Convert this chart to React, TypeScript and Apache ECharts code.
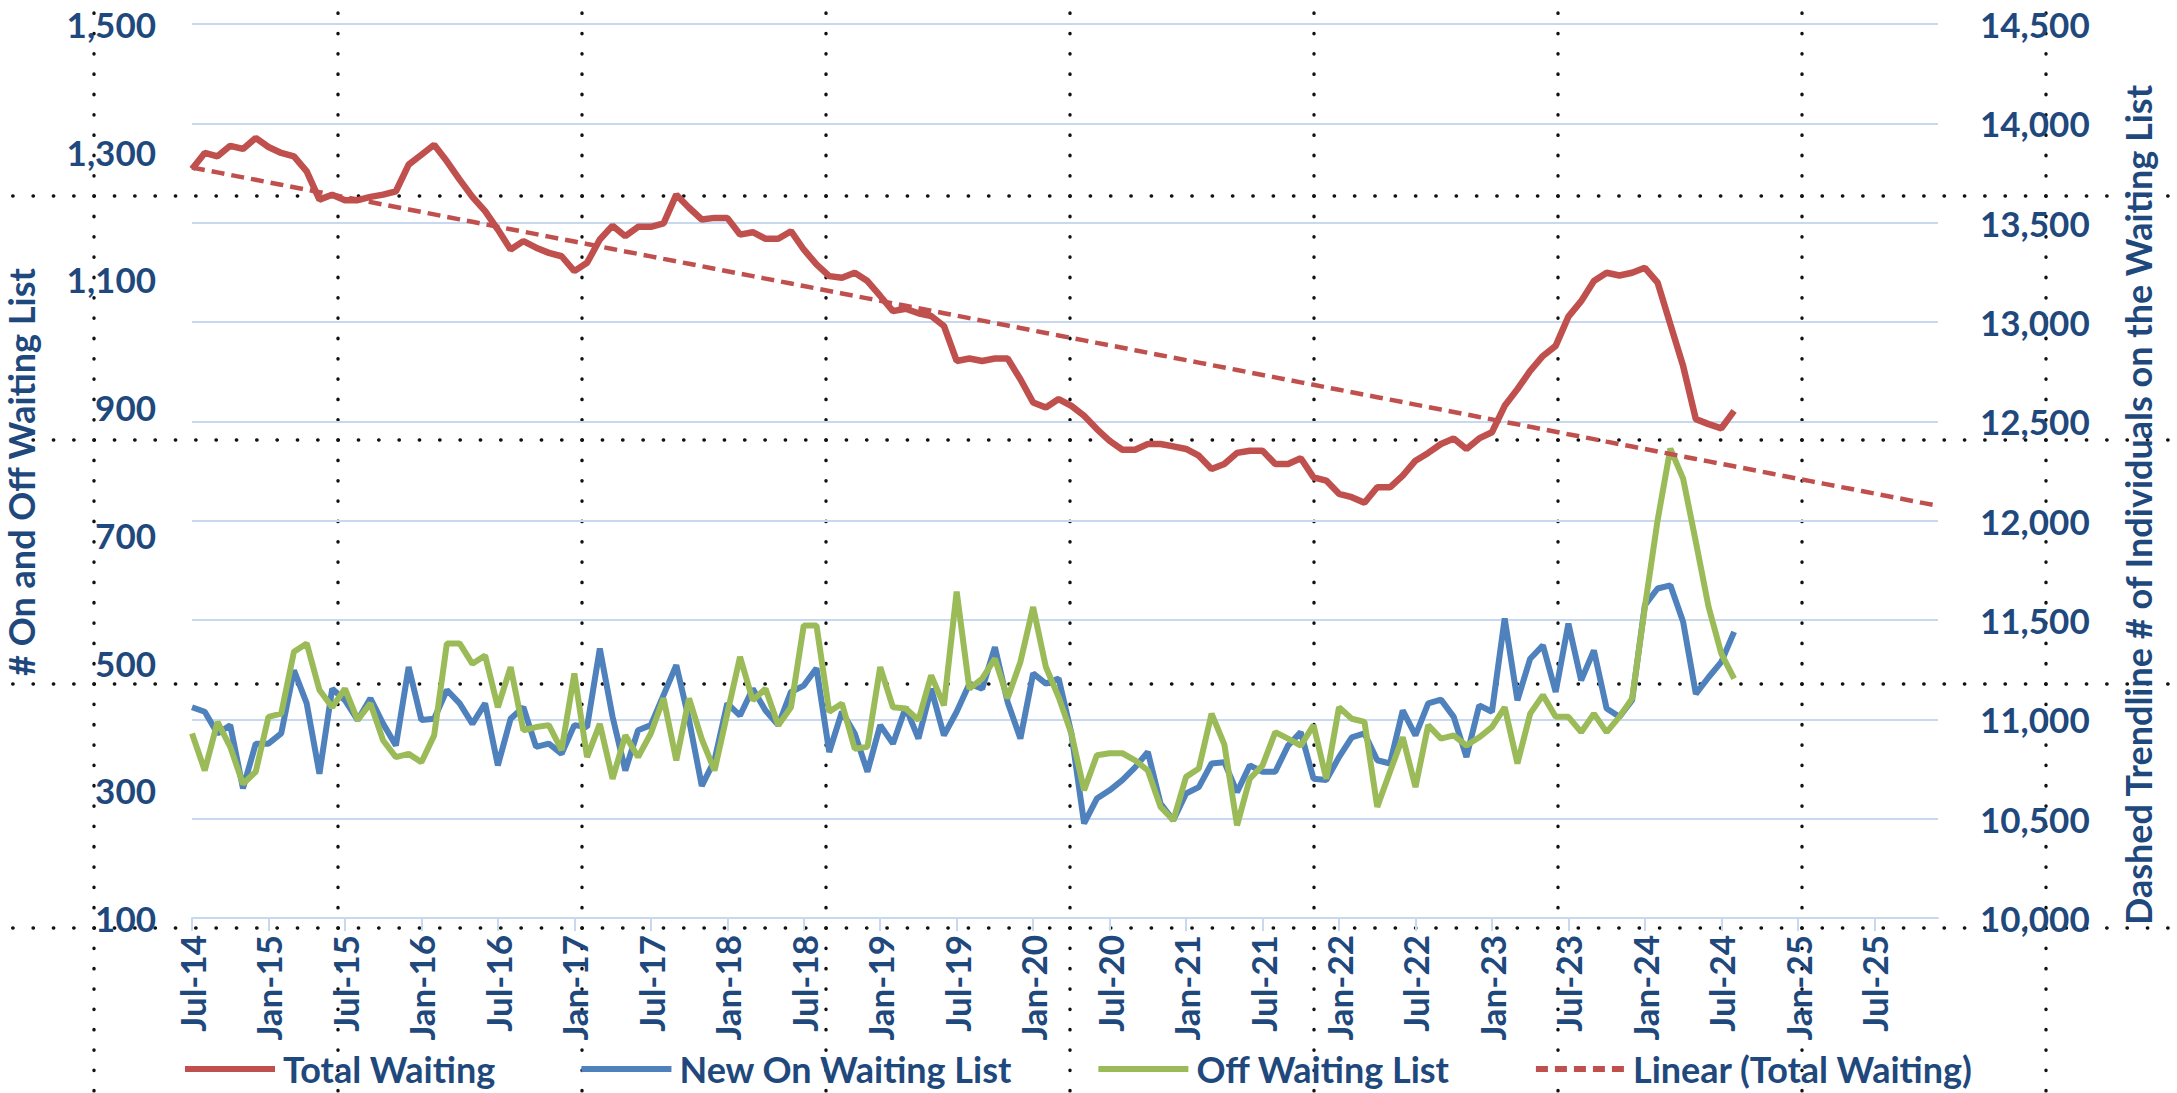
import React, { useEffect, useRef } from 'react';
import * as echarts from 'echarts';

const MONTH_NAMES = ['Jan', 'Feb', 'Mar', 'Apr', 'May', 'Jun', 'Jul', 'Aug', 'Sep', 'Oct', 'Nov', 'Dec'];
const FIRST_MONTH = 6; // Jul
const FIRST_YEAR = 14;
const MONTH_COUNT = 138; // Jul-14 .. Dec-25

const categories: string[] = [];
for (let k = 0; k < MONTH_COUNT; k++) {
  const m = (FIRST_MONTH + k) % 12;
  const y = FIRST_YEAR + Math.floor((FIRST_MONTH + k) / 12);
  categories.push(`${MONTH_NAMES[m]}-${y}`);
}

// Total individuals on the waiting list (right axis), Jul-14 .. Aug-24
const totalWaiting = [
  13770, 13851, 13834, 13887, 13871, 13926, 13881, 13851, 13834, 13758,
  13616, 13641, 13613, 13613, 13630, 13641, 13658, 13792, 13842, 13892,
  13809, 13717, 13630, 13558, 13465, 13365, 13407, 13374, 13348, 13331,
  13256, 13298, 13415, 13485, 13432, 13479, 13479, 13496, 13641, 13575,
  13516, 13524, 13524, 13440, 13452, 13419, 13419, 13457, 13365, 13290,
  13231, 13223, 13248, 13206, 13131, 13055, 13067, 13044, 13030, 12980,
  12804, 12816, 12804, 12816, 12816, 12712, 12595, 12570, 12612, 12578,
  12528, 12461, 12402, 12357, 12357, 12386, 12386, 12374, 12361, 12327,
  12260, 12285, 12341, 12352, 12352, 12285, 12285, 12314, 12218, 12202,
  12135, 12118, 12090, 12168, 12168, 12227, 12302, 12341, 12386, 12414,
  12361, 12414, 12445, 12578, 12662, 12754, 12829, 12880, 13027, 13105,
  13206, 13248, 13234, 13248, 13273, 13198, 12988, 12779, 12511, 12486,
  12465, 12553,
];

// New on waiting list (left axis)
const newOnWaitingList = [
  430, 423, 389, 402, 303, 373, 373, 389, 488, 436,
  326, 459, 441, 410, 444, 404, 370, 493, 410, 412,
  457, 436, 404, 436, 339, 412, 430, 368, 373, 357,
  402, 399, 522, 415, 331, 394, 402, 449, 496, 410,
  307, 347, 436, 417, 459, 425, 402, 454, 464, 491,
  360, 423, 389, 329, 402, 373, 430, 381, 459, 386,
  423, 467, 459, 524, 438, 381, 483, 467, 475, 389,
  248, 287, 300, 316, 336, 360, 279, 253, 295, 305,
  342, 344, 297, 339, 329, 329, 370, 391, 318, 316,
  352, 383, 389, 347, 342, 425, 386, 436, 442, 415,
  352, 433, 423, 569, 441, 506, 527, 454, 561, 472,
  519, 428, 415, 441, 590, 616, 621, 564, 451, 477,
  501, 548,
];

// Off waiting list (left axis)
const offWaitingList = [
  389, 331, 407, 368, 310, 329, 415, 420, 517, 530,
  457, 430, 459, 410, 436, 378, 352, 357, 344, 386,
  530, 530, 498, 511, 430, 493, 394, 399, 402, 363,
  483, 352, 404, 318, 386, 352, 389, 444, 347, 444,
  380, 331, 420, 509, 441, 459, 402, 430, 558, 558,
  423, 436, 365, 368, 493, 430, 428, 410, 480, 433,
  611, 459, 475, 506, 444, 501, 587, 493, 446, 389,
  300, 355, 358, 358, 347, 331, 274, 253, 321, 334,
  420, 372, 245, 318, 339, 391, 381, 370, 402, 318,
  430, 412, 407, 274, 329, 383, 305, 402, 381, 386,
  370, 383, 399, 430, 342, 420, 449, 415, 415, 391,
  420, 391, 415, 444, 587, 723, 835, 788, 689, 587,
  514, 475,
];

const LEFT_AXIS = { min: 100, max: 1500, interval: 200 };
const RIGHT_AXIS = { min: 10000, max: 14500, interval: 500 };

// Least-squares linear trendline of Total Waiting, extended over the whole axis
function linearTrend(values: number[], length: number): number[] {
  const n = values.length;
  let sx = 0, sy = 0, sxx = 0, sxy = 0;
  for (let i = 0; i < n; i++) {
    sx += i; sy += values[i]; sxx += i * i; sxy += i * values[i];
  }
  const slope = (n * sxy - sx * sy) / (n * sxx - sx * sx);
  const intercept = (sy - slope * sx) / n;
  const out: number[] = [];
  for (let i = 0; i < length; i++) out.push(Math.round((intercept + slope * i) * 10) / 10);
  return out;
}

const TEXT_COLOR = '#1F497D';
const FONT = 'Lato, "Open Sans", sans-serif';
const GRID_COLOR = '#c8d9ef';
const RED = '#C0504D';
const BLUE = '#4F81BD';
const GREEN = '#9BBB59';

const SOLID_ICON = 'path://M0,0H90V6H0Z';
const DASHED_ICON = 'path://M0,0H12V6H0Z M19,0H31V6H19Z M38,0H50V6H38Z M57,0H69V6H57Z M76,0H88V6H76Z';

export default function App() {
  const ref = useRef<HTMLDivElement>(null);

  useEffect(() => {
    if (!ref.current) return;
    const chart = echarts.init(ref.current, undefined, { renderer: 'svg' });
    const trend = linearTrend(totalWaiting, categories.length);
    const fmt = (v: number) => v.toLocaleString('en-US');

    const dotStyle = { stroke: '#111', lineWidth: 3.4, lineDash: [0.4, 19.93], lineCap: 'round' };
    const dots: any[] = [];
    for (let k = 0; k < 9; k++) {
      const x = 94 + 244 * k;
      dots.push({ type: 'line', silent: true, z: 0, shape: { x1: x, y1: 13, x2: x, y2: 1093 }, style: dotStyle });
    }
    [196, 440, 684, 928].forEach((y) => {
      dots.push({ type: 'line', silent: true, z: 0, shape: { x1: 12.7, y1: y, x2: 2177, y2: y }, style: dotStyle });
    });

    const nameStyle = (text: string) => ({
      text,
      fill: TEXT_COLOR,
      font: `bold 36px ${FONT}`,
      textAlign: 'center',
      textVerticalAlign: 'middle',
      align: 'center',
      verticalAlign: 'middle',
    });

    chart.setOption({
      animation: false,
      backgroundColor: '#ffffff',
      grid: { left: 192, right: 239, top: 24, bottom: 175, containLabel: false },
      legend: {
        left: 185,
        top: 1051,
        padding: 0,
        itemWidth: 90,
        itemHeight: 6,
        itemGap: 86,
        textStyle: { color: TEXT_COLOR, fontFamily: FONT, fontWeight: 'bold', fontSize: 36, padding: [0, 0, 0, 3] },
        data: [
          { name: 'Total Waiting', icon: SOLID_ICON },
          { name: 'New On Waiting List', icon: SOLID_ICON },
          { name: 'Off Waiting List', icon: SOLID_ICON },
          { name: 'Linear (Total Waiting)', icon: DASHED_ICON },
        ],
      },
      graphic: [
        ...dots,
        { type: 'text', silent: true, x: 21, y: 472, rotation: Math.PI / 2, style: nameStyle('# On and Off Waiting List') },
        { type: 'text', silent: true, x: 2138, y: 505, rotation: Math.PI / 2, style: nameStyle('Dashed Trendline # of Individuals on the Waiting List') },
      ],
      xAxis: {
        type: 'category',
        data: categories,
        boundaryGap: false,
        axisLine: { show: true, lineStyle: { color: GRID_COLOR, width: 2 } },
        axisTick: { show: true, interval: 5, length: 13, lineStyle: { color: GRID_COLOR, width: 2 } },
        axisLabel: {
          interval: 5,
          rotate: 90,
          margin: 17,
          color: TEXT_COLOR,
          fontFamily: FONT,
          fontWeight: 'bold',
          fontSize: 35,
        },
        splitLine: { show: false },
      },
      yAxis: [
        {
          type: 'value',
          position: 'left',
          min: LEFT_AXIS.min,
          max: LEFT_AXIS.max,
          interval: LEFT_AXIS.interval,
          axisLine: { show: false },
          axisTick: { show: false },
          splitLine: { show: false },
          axisLabel: { margin: 36, color: TEXT_COLOR, fontFamily: FONT, fontWeight: 'bold', fontSize: 35, formatter: fmt },
        },
        {
          type: 'value',
          position: 'right',
          min: RIGHT_AXIS.min,
          max: RIGHT_AXIS.max,
          interval: RIGHT_AXIS.interval,
          axisLine: { show: false },
          axisTick: { show: false },
          splitLine: { show: true, lineStyle: { color: GRID_COLOR, width: 2 } },
          axisLabel: { margin: 42, color: TEXT_COLOR, fontFamily: FONT, fontWeight: 'bold', fontSize: 35, formatter: fmt },
        },
      ],
      series: [
        {
          name: 'Total Waiting',
          type: 'line',
          yAxisIndex: 1,
          data: totalWaiting,
          symbol: 'none',
          showSymbol: false,
          z: 4,
          lineStyle: { color: RED, width: 6.5 },
          itemStyle: { color: RED },
        },
        {
          name: 'New On Waiting List',
          type: 'line',
          yAxisIndex: 0,
          data: newOnWaitingList,
          symbol: 'none',
          showSymbol: false,
          z: 3,
          lineStyle: { color: BLUE, width: 6 },
          itemStyle: { color: BLUE },
        },
        {
          name: 'Off Waiting List',
          type: 'line',
          yAxisIndex: 0,
          data: offWaitingList,
          symbol: 'none',
          showSymbol: false,
          z: 3,
          lineStyle: { color: GREEN, width: 6 },
          itemStyle: { color: GREEN },
        },
        {
          name: 'Linear (Total Waiting)',
          type: 'line',
          yAxisIndex: 1,
          data: trend,
          symbol: 'none',
          showSymbol: false,
          z: 5,
          lineStyle: { color: RED, width: 4.5, type: [13, 7] },
          itemStyle: { color: RED },
        },
      ],
    });

    return () => chart.dispose();
  }, []);

  return (
    <div
      ref={ref}
      style={{ position: 'fixed', left: 0, top: 0, width: 2177, height: 1093, background: '#ffffff' }}
    />
  );
}
